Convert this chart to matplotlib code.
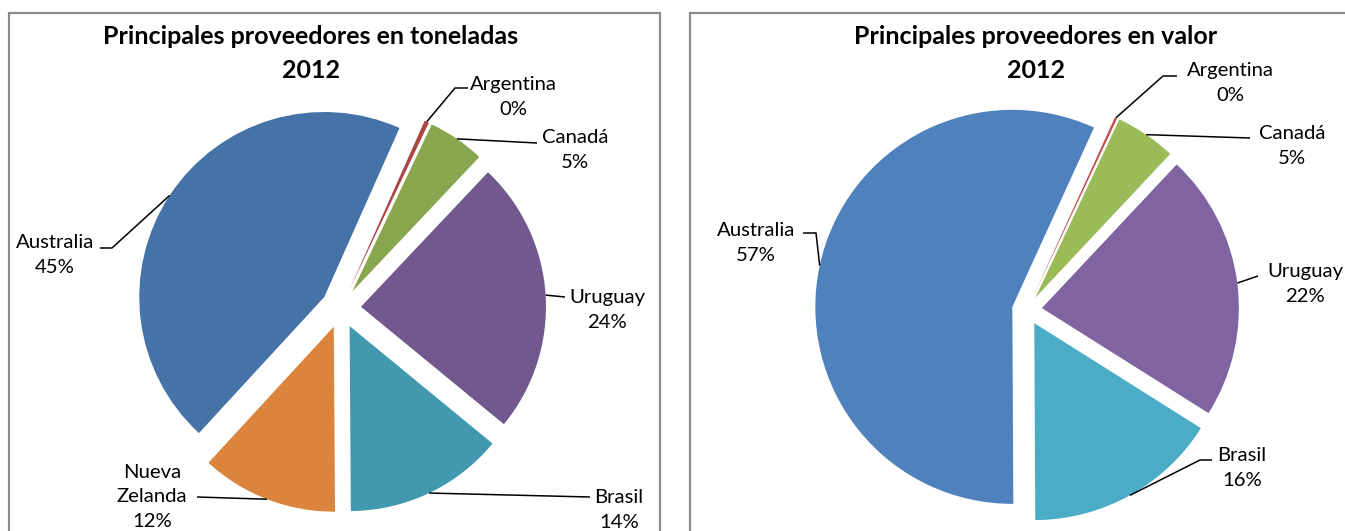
import numpy as np
import matplotlib
matplotlib.use("Agg")
import matplotlib.pyplot as plt
from matplotlib.patches import Rectangle

plt.rcParams["font.family"] = ["Lato", "DejaVu Sans"]

# Data
YEAR = "2012"
TONS_LABELS = ["Argentina", "Canadá", "Uruguay", "Brasil", "Nueva\nZelanda", "Australia"]
TONS_VALUES = [0.4, 5, 24, 14, 12, 45]
TONS_PCT = ["0%", "5%", "24%", "14%", "12%", "45%"]

VALUE_LABELS = ["Argentina", "Canadá", "Uruguay", "Brasil", "Australia"]
VALUE_VALUES = [0.2, 5, 22, 16, 57]
VALUE_PCT = ["0%", "5%", "22%", "16%", "57%"]

# Colours
TONS_COLORS = ["#AA4643", "#89A54E", "#71588F", "#4198AF", "#DB843D", "#4572A7"]
VALUE_COLORS = ["#C0504D", "#9BBB59", "#8064A2", "#4BACC6", "#4F81BD"]

W, H = 1345, 531


def px(x, y):
    """Pixel position measured from the top-left -> axes coords."""
    return x, H - y


fig = plt.figure(figsize=(W / 100, H / 100), dpi=100)
ax = fig.add_axes([0, 0, 1, 1])


def draw_pie(values, colors, labels, pcts, center, radius, explode, startangle,
             label_pos, leaders):
    # explode is in data units here (pixels), as the axes uses pixel coords
    wedges, _ = ax.pie(
        values,
        colors=colors,
        explode=[explode] * len(values),
        center=px(*center),
        radius=radius,
        startangle=startangle,
        counterclock=False,
        wedgeprops=dict(linewidth=0),
    )
    for w, lab, pct, pos, lead in zip(wedges, labels, pcts, label_pos, leaders):
        mid = np.deg2rad((w.theta1 + w.theta2) / 2)
        cx, cy = w.center
        anchor = (cx + w.r * np.cos(mid), cy + w.r * np.sin(mid))
        pts = [anchor] + [px(*p) for p in lead]
        xs, ys = zip(*pts)
        ax.plot(xs, ys, color="black", lw=1.1, solid_capstyle="butt", clip_on=False)
        ax.text(*px(*pos), f"{lab}\n{pct}", ha="center", va="center",
                fontsize=14.6, linespacing=1.55, color="black")
    return wedges


# left chart: tonnage
draw_pie(
    TONS_VALUES, TONS_COLORS, TONS_LABELS, TONS_PCT,
    center=(341, 308), radius=185, explode=20, startangle=66,
    label_pos=[(513, 97), (575, 150), (607, 310), (619, 510), (152, 497), (55, 255)],
    leaders=[[(455, 88), (468, 88)], [(537, 143)], [(565, 297)], [(590, 497)],
             [(197, 497)], [(112, 248), (100, 248)]],
)

# right chart: value
draw_pie(
    VALUE_VALUES, VALUE_COLORS, VALUE_LABELS, VALUE_PCT,
    center=(1027, 310), radius=197, explode=15, startangle=65.5,
    label_pos=[(1230, 83), (1292, 146), (1305, 284), (1242, 468), (756, 243)],
    leaders=[[(1163, 76), (1177, 76)], [(1250, 138)], [(1258, 276)],
             [(1200, 460), (1212, 460)], [(816, 233), (803, 233)]],
)

# titles
ax.text(*px(311, 37), "Principales proveedores en toneladas", ha="center", va="center",
        fontsize=18, fontweight="bold")
ax.text(*px(311, 70), YEAR, ha="center", va="center", fontsize=18, fontweight="bold")
ax.text(*px(1036, 37), "Principales proveedores en valor", ha="center", va="center",
        fontsize=18, fontweight="bold")
ax.text(*px(1036, 70), YEAR, ha="center", va="center", fontsize=18, fontweight="bold")

# chart area frames
ax.add_patch(Rectangle((9, -20), 651, H - 13 + 20, fill=False, edgecolor="#8c8c8c", lw=1.6))
ax.add_patch(Rectangle((690, -20), 700, H - 13 + 20, fill=False, edgecolor="#8c8c8c", lw=1.6))

ax.set_xlim(0, W)
ax.set_ylim(0, H)
ax.set_aspect("equal")
ax.axis("off")

fig.savefig("out.png", dpi=100)
